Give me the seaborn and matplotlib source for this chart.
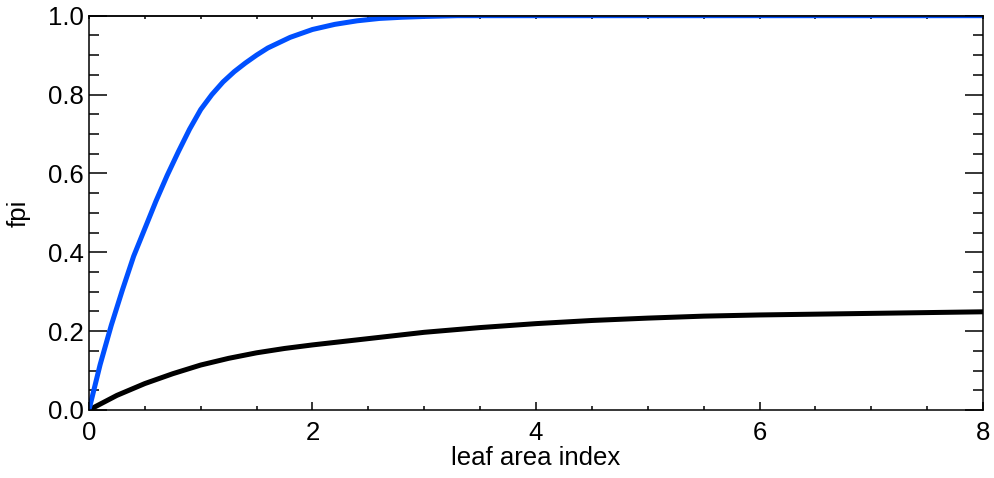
import numpy as np
import pandas as pd
import matplotlib
matplotlib.use('Agg')
import matplotlib.pyplot as plt
from matplotlib.ticker import MultipleLocator
import seaborn as sns

# Values
lai_blue = [0.0, 0.1, 0.2, 0.3, 0.4, 0.5, 0.6, 0.7, 0.8, 0.9, 1.0, 1.1, 1.2, 1.3,
            1.4, 1.5, 1.6, 1.8, 2.0, 2.2, 2.4, 2.6, 2.8, 3.0, 3.3, 4.0, 5.0, 6.0, 7.0, 8.0]
fpi_blue = [0.0, 0.115, 0.215, 0.305, 0.39, 0.46, 0.53, 0.595, 0.655, 0.712, 0.762, 0.80,
            0.832, 0.858, 0.88, 0.90, 0.918, 0.945, 0.965, 0.978, 0.987, 0.993, 0.996,
            0.998, 1.0, 1.0, 1.0, 1.0, 1.0, 1.0]

lai_black = [0.0, 0.25, 0.5, 0.75, 1.0, 1.25, 1.5, 1.75, 2.0, 2.5, 3.0, 3.5, 4.0,
             4.5, 5.0, 5.5, 6.0, 6.5, 7.0, 7.5, 8.0]
fpi_black = [0.0, 0.037, 0.067, 0.092, 0.114, 0.131, 0.145, 0.156, 0.165, 0.181, 0.197,
             0.209, 0.219, 0.227, 0.233, 0.238, 0.241, 0.243, 0.245, 0.247, 0.249]

df_blue = pd.DataFrame({'lai': lai_blue, 'fpi': fpi_blue})
df_black = pd.DataFrame({'lai': lai_black, 'fpi': fpi_black})

sns.set_style('ticks')
plt.rcParams['font.family'] = ['Liberation Sans', 'DejaVu Sans']
plt.rcParams['text.color'] = 'black'
plt.rcParams['axes.labelcolor'] = 'black'
plt.rcParams['xtick.color'] = 'black'
plt.rcParams['ytick.color'] = 'black'

fig = plt.figure(figsize=(9.95, 4.78), dpi=100)
ax = fig.add_axes([0.0894, 0.1423, 0.8986, 0.8249])

sns.lineplot(data=df_black, x='lai', y='fpi', color='black', linewidth=3.6, ax=ax)
sns.lineplot(data=df_blue, x='lai', y='fpi', color='#0050ff', linewidth=3.6, ax=ax)

ax.set_xlim(0, 8)
ax.set_ylim(0, 1.0)
ax.xaxis.set_major_locator(MultipleLocator(2))
ax.xaxis.set_minor_locator(MultipleLocator(0.5))
ax.yaxis.set_major_locator(MultipleLocator(0.2))
ax.yaxis.set_minor_locator(MultipleLocator(0.05))
ax.xaxis.set_major_formatter(plt.FuncFormatter(lambda v, p: f'{v:.0f}'))
ax.yaxis.set_major_formatter(plt.FuncFormatter(lambda v, p: f'{v:.1f}'))

for s in ax.spines.values():
    s.set_linewidth(1.1)
    s.set_color('black')

ax.tick_params(axis='x', which='major', direction='in', length=6, width=1.1,
               labelsize=18.5, pad=8, bottom=True, top=False)
ax.tick_params(axis='x', which='minor', direction='in', length=3, width=1.1,
               bottom=True, top=False)
ax.tick_params(axis='y', which='major', direction='in', length=13, width=1.1,
               labelsize=18.5, pad=4, left=True, right=True)
ax.tick_params(axis='y', which='minor', direction='in', length=7, width=1.1,
               left=True, right=True)

# short ticks along the top edge
top = ax.secondary_xaxis('top')
top.xaxis.set_major_locator(MultipleLocator(2))
top.xaxis.set_minor_locator(MultipleLocator(0.5))
top.tick_params(which='both', direction='in', length=2.5, width=1.1, labeltop=False)
top.spines['top'].set_linewidth(1.1)

ax.set_xlabel('leaf area index', fontsize=18.5, labelpad=1)
ax.set_ylabel('fpi', fontsize=18.5, labelpad=12)

fig.savefig('out.png', dpi=100)
